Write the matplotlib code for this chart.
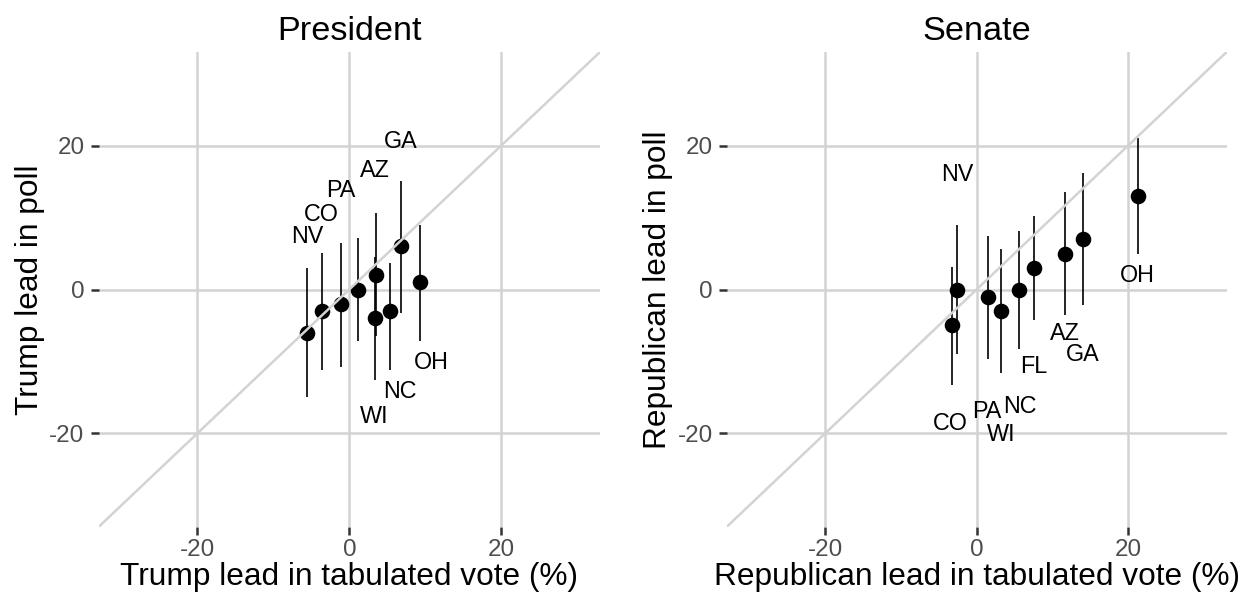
import numpy as np
import matplotlib
matplotlib.use("Agg")
import matplotlib.pyplot as plt

plt.rcParams['font.family'] = ['Liberation Sans', 'DejaVu Sans']
plt.rcParams['axes.unicode_minus'] = False

# ---------------- data ----------------
pres_states = ["NV", "CO", "PA", "FL", "AZ", "WI", "NC", "GA", "OH"]
pres_vote = [-5.5, -3.6, -1.1, 1.2, 3.5, 3.4, 5.4, 6.8, 9.3]
pres_poll = [-6.0, -3.0, -2.0, 0.0, 2.0, -4.0, -3.0, 6.0, 1.0]
pres_low = [-15.0, -11.2, -10.7, -7.2, -6.5, -12.6, -11.2, -3.2, -7.2]
pres_high = [3.0, 5.1, 6.5, 7.2, 10.6, 4.5, 3.7, 15.1, 9.0]
pres_show_label = [True, True, True, False, True, True, True, True, True]
pres_label_x = [-5.5, -3.7, -1.1, 1.2, 3.4, 3.3, 6.7, 6.8, 10.8]
pres_label_y = [7.4, 10.4, 13.8, 0.0, 16.6, -17.7, -14.2, 20.6, -10.2]

sen_states = ["CO", "NV", "PA", "WI", "NC", "FL", "AZ", "GA", "OH"]
sen_vote = [-3.3, -2.6, 1.5, 3.2, 5.6, 7.6, 11.7, 14.0, 21.3]
sen_poll = [-5.0, 0.0, -1.0, -3.0, 0.0, 3.0, 5.0, 7.0, 13.0]
sen_low = [-13.3, -9.0, -9.6, -11.6, -8.2, -4.2, -3.6, -2.2, 4.9]
sen_high = [3.1, 8.9, 7.5, 5.6, 8.1, 10.2, 13.6, 16.2, 21.1]
sen_show_label = [True] * 9
sen_label_x = [-3.5, -2.6, 1.4, 3.2, 5.7, 7.5, 11.7, 14.0, 21.2]
sen_label_y = [-18.6, 16.0, -17.0, -20.2, -16.2, -10.7, -6.1, -9.1, 2.0]

ticks = [-20, 0, 20]
tick_labels = ["-20", "0", "20"]
limits = (-33, 33)

panels = [
    dict(title="President", xlabel="Trump lead in tabulated vote (%)",
         ylabel="Trump lead in poll", states=pres_states, x=pres_vote,
         y=pres_poll, lo=pres_low, hi=pres_high, show=pres_show_label,
         lx=pres_label_x, ly=pres_label_y),
    dict(title="Senate", xlabel="Republican lead in tabulated vote (%)",
         ylabel="Republican lead in poll", states=sen_states, x=sen_vote,
         y=sen_poll, lo=sen_low, hi=sen_high, show=sen_show_label,
         lx=sen_label_x, ly=sen_label_y),
]

W, H = 1250, 605
fig = plt.figure(figsize=(W / 100, H / 100), dpi=100)
fig.patch.set_facecolor("white")

grid_col = "#D3D3D3"
axes_rects = [
    (98.5 / W, (H - 527) / H, 501.5 / W, 475 / H),
    (726.6 / W, (H - 527) / H, 500.0 / W, 475 / H),
]

for rect, p in zip(axes_rects, panels):
    ax = fig.add_axes(rect)
    ax.set_xlim(*limits)
    ax.set_ylim(*limits)
    for s in ax.spines.values():
        s.set_visible(False)
    ax.set_xticks(ticks)
    ax.set_xticklabels(tick_labels)
    ax.set_yticks(ticks)
    ax.set_yticklabels(tick_labels)
    ax.grid(True, color=grid_col, linewidth=1.8)
    ax.set_axisbelow(True)
    ax.tick_params(axis="both", direction="out", length=5.6, width=1.8,
                   color="#333333", labelsize=17.4, labelcolor="#4D4D4D")
    ax.tick_params(axis="x", pad=3)
    ax.tick_params(axis="y", pad=4.5)

    x = np.array(p["x"])
    y = np.array(p["y"])
    ax.vlines(x, p["lo"], p["hi"], color="black", linewidth=1.2, zorder=3)
    ax.plot(x, y, "o", color="black", markersize=10.2, zorder=4)
    ax.axline((0, 0), slope=1, color=grid_col, linewidth=1.8, zorder=5)

    for st, show, lx, ly in zip(p["states"], p["show"], p["lx"], p["ly"]):
        if show:
            ax.text(lx, ly, st, ha="center", va="center", fontsize=16.8,
                    color="black", zorder=6)

    ax.set_title(p["title"], fontsize=24.7, pad=8.4, color="black")
    ax.set_xlabel(p["xlabel"], fontsize=22.8, labelpad=0.5, color="black")
    ax.set_ylabel(p["ylabel"], fontsize=22.8, labelpad=3, color="black")

fig.savefig("out.png", dpi=100, facecolor="white")
